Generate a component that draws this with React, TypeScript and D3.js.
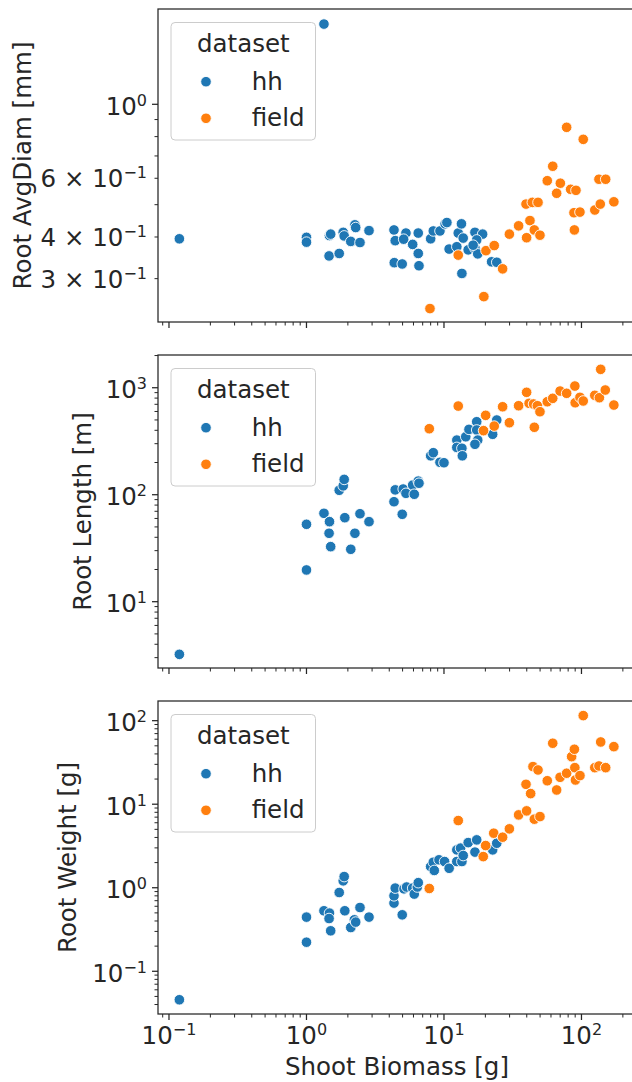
import React from "react";
import * as d3 from "d3";

const W = 632;
const H = 1082;
const LEFT = 158;
const RIGHT = 634;
const INK = "#262626";
const BLUE = "#1f77b4";
const ORANGE = "#ff7f0e";
const FONT = "'DejaVu Sans', sans-serif";
const FS = 24.5;
const SUP = 16;

const xDomain = [0.0832, 241];
const xTickExps = ["−1", "0", "1", "2"];
const xTickVals = [0.1, 1, 10, 100];

// panel 1: root avg diameter [mm] vs shoot biomass [g]
const hhShootA = [0.119, 1.0, 1.0, 1.34, 1.47, 1.5, 1.46, 1.73, 1.85, 1.88, 2.1, 2.25, 2.28, 2.45, 2.85, 4.33, 4.42, 4.35, 4.97, 5.29, 5.09, 5.92, 6.5, 6.5, 6.58, 8.0, 8.36, 9.35, 10.2, 10.5, 10.9, 12.7, 13.4, 13.8, 12.4, 13.5, 15.0, 16.8, 19.1, 17.3, 16.8, 17.6, 22.2, 24.2, 16.3];
const hhAvgDiam = [0.395, 0.399, 0.386, 1.74, 0.404, 0.408, 0.351, 0.357, 0.413, 0.403, 0.388, 0.435, 0.427, 0.385, 0.418, 0.42, 0.39, 0.335, 0.332, 0.411, 0.394, 0.38, 0.411, 0.357, 0.328, 0.395, 0.417, 0.417, 0.438, 0.442, 0.368, 0.411, 0.438, 0.397, 0.374, 0.311, 0.366, 0.413, 0.408, 0.392, 0.37, 0.356, 0.337, 0.336, 0.378];
const fieldShootA = [7.91, 12.7, 19.5, 20.2, 23.2, 26.7, 29.9, 34.9, 39.9, 42.2, 45.4, 49.9, 39.5, 43.9, 48.3, 56.4, 61.8, 70.2, 66.0, 78.0, 83.4, 91.2, 103, 88.2, 97.5, 88.8, 125, 137, 134, 150, 172];
const fieldAvgDiam = [0.244, 0.353, 0.265, 0.364, 0.377, 0.321, 0.408, 0.432, 0.398, 0.448, 0.42, 0.405, 0.502, 0.508, 0.508, 0.59, 0.652, 0.58, 0.541, 0.853, 0.556, 0.552, 0.785, 0.473, 0.475, 0.42, 0.482, 0.502, 0.596, 0.596, 0.51];

// panel 2: root length [m]
const hhShootB = [0.119, 1.0, 1.0, 1.34, 1.47, 1.46, 1.5, 1.73, 1.85, 1.88, 1.9, 2.1, 2.25, 2.45, 2.85, 4.33, 4.42, 4.97, 5.05, 5.29, 5.92, 6.08, 6.5, 6.58, 8.0, 8.36, 9.35, 10.0, 12.4, 12.4, 13.5, 13.6, 14.4, 15.2, 17.3, 17.3, 17.6, 16.8, 22.6, 24.2];
const hhLength = [3.22, 52.9, 19.8, 67, 56, 43.6, 32.7, 110, 121, 139, 61, 30.9, 43.6, 66.4, 56, 86, 111, 65.6, 113, 103, 123, 101, 134, 128, 231, 247, 201, 199, 324, 277, 272, 231, 348, 408, 481, 403, 324, 296, 367, 499];
const fieldShootB = [7.82, 12.7, 19.4, 20.1, 23.2, 26.7, 29.9, 34.9, 39.9, 41.6, 44.8, 47.8, 49.9, 45.4, 56.4, 61.8, 69.9, 78.0, 89.5, 90, 97.5, 103, 125, 135, 138, 149, 172];
const fieldLength = [414, 674, 397, 552, 438, 664, 471, 679, 906, 715, 705, 679, 597, 427, 740, 796, 931, 887, 1037, 724, 813, 752, 849, 807, 1486, 952, 689];

// panel 3: root weight [g]
const hhShootC = [0.119, 1.0, 1.0, 1.34, 1.47, 1.46, 1.5, 1.73, 1.85, 1.88, 1.9, 2.1, 2.23, 2.28, 2.45, 2.85, 4.33, 4.33, 4.42, 4.97, 5.12, 5.35, 5.92, 6.08, 6.4, 6.5, 8.0, 8.36, 8.5, 9.2, 10.1, 10.9, 12.4, 12.4, 13.2, 13.5, 13.8, 15.0, 17.3, 16.8, 22.6, 24.2];
const hhWeight = [0.0456, 0.445, 0.223, 0.53, 0.497, 0.428, 0.305, 0.877, 1.21, 1.36, 0.53, 0.334, 0.413, 0.388, 0.58, 0.445, 0.655, 0.8, 0.99, 0.474, 0.97, 1.02, 0.99, 0.84, 1.02, 1.15, 1.79, 2.02, 1.61, 2.16, 2.06, 1.71, 2.06, 2.84, 2.98, 2.06, 2.43, 3.47, 3.74, 2.67, 2.84, 3.41];
const fieldShootC = [7.82, 12.7, 19.3, 20.1, 23.0, 26.7, 29.9, 34.9, 39.9, 45.4, 49.9, 39.5, 42.7, 44.4, 48.3, 56.4, 61.8, 66, 69.9, 78, 84.8, 88.8, 89.5, 90.4, 97.5, 103, 125, 134, 150, 138, 172];
const fieldWeight = [0.98, 6.37, 2.36, 3.2, 4.5, 4.03, 5.07, 7.45, 8.32, 6.62, 7.11, 17.3, 13.4, 28.2, 25.7, 19.1, 53.7, 14.8, 21.0, 23.5, 37.1, 45.5, 27.4, 19.5, 22.0, 115, 27.4, 28.7, 27.4, 55.6, 48.9];

type TickLabel = { v: number; mant?: string; exp: string };

const panels = [
  {
    top: 9, bottom: 322, yDomain: [0.2224, 1.931], yLabel: "Root AvgDiam [mm]", yLabelX: 31,
    yLabels: [
      { v: 1, exp: "0" },
      { v: 0.6, mant: "6", exp: "−1" },
      { v: 0.4, mant: "4", exp: "−1" },
      { v: 0.3, mant: "3", exp: "−1" },
    ] as TickLabel[],
    hx: hhShootA, hy: hhAvgDiam, fx: fieldShootA, fy: fieldAvgDiam,
  },
  {
    top: 355, bottom: 668, yDomain: [2.4, 2023], yLabel: "Root Length [m]", yLabelX: 91,
    yLabels: [
      { v: 10, exp: "1" },
      { v: 100, exp: "2" },
      { v: 1000, exp: "3" },
    ] as TickLabel[],
    hx: hhShootB, hy: hhLength, fx: fieldShootB, fy: fieldLength,
  },
  {
    top: 701, bottom: 1014, yDomain: [0.0308, 172], yLabel: "Root Weight [g]", yLabelX: 75.5,
    yLabels: [
      { v: 0.1, exp: "−1" },
      { v: 1, exp: "0" },
      { v: 10, exp: "1" },
      { v: 100, exp: "2" },
    ] as TickLabel[],
    hx: hhShootC, hy: hhWeight, fx: fieldShootC, fy: fieldWeight,
  },
];

function logTicks(domain: number[]) {
  const major: number[] = [];
  const minor: number[] = [];
  for (let k = -3; k <= 4; k++) {
    for (let m = 1; m <= 9; m++) {
      const v = m * Math.pow(10, k);
      if (v < domain[0] || v > domain[1]) continue;
      (m === 1 ? major : minor).push(v);
    }
  }
  return { major, minor };
}

function Sci({ x, y, anchor, t }: { x: number; y: number; anchor: string; t: TickLabel }) {
  return (
    <text x={x} y={y} textAnchor={anchor} fontSize={FS} fill={INK} fontFamily={FONT}>
      {t.mant ? `${t.mant} × 10` : "10"}
      <tspan dy={-9} fontSize={SUP}>{t.exp}</tspan>
    </text>
  );
}

export default function App() {
  const x = d3.scaleLog().domain(xDomain).range([LEFT, RIGHT]);
  const xt = logTicks(xDomain);

  return (
    <svg width={W} height={H} style={{ position: "absolute", left: 0, top: 0, background: "#fff" }}>
      {panels.map((p, i) => {
        const y = d3.scaleLog().domain(p.yDomain).range([p.bottom, p.top]);
        const yt = logTicks(p.yDomain);
        const last = i === panels.length - 1;
        return (
          <g key={i}>
            {/* x ticks */}
            {xt.major.map((v) => (
              <line key={"xM" + v} x1={x(v)} x2={x(v)} y1={p.bottom} y2={p.bottom + 6} stroke={INK} strokeWidth={1.25} />
            ))}
            {xt.minor.map((v) => (
              <line key={"xm" + v} x1={x(v)} x2={x(v)} y1={p.bottom} y2={p.bottom + 3.5} stroke={INK} strokeWidth={1} />
            ))}
            {/* y ticks */}
            {yt.major.map((v) => (
              <line key={"yM" + v} x1={LEFT - 6} x2={LEFT} y1={y(v)} y2={y(v)} stroke={INK} strokeWidth={1.25} />
            ))}
            {yt.minor.map((v) => (
              <line key={"ym" + v} x1={LEFT - 3.5} x2={LEFT} y1={y(v)} y2={y(v)} stroke={INK} strokeWidth={1} />
            ))}
            {p.yLabels.map((t) => (
              <Sci key={"yl" + t.v} x={147} y={y(t.v) + (t.mant ? 9 : 10.5)} anchor="end" t={t} />
            ))}
            <text
              transform={`translate(${p.yLabelX},${(p.top + p.bottom) / 2}) rotate(-90)`}
              textAnchor="middle" fontSize={FS} fill={INK} fontFamily={FONT}
            >
              {p.yLabel}
            </text>
            {last &&
              xTickVals.map((v, j) => (
                <Sci key={"xl" + v} x={x(v)} y={1044} anchor="middle" t={{ v, exp: xTickExps[j] }} />
              ))}
            {/* points */}
            {p.hx.map((v, j) => (
              <circle key={"h" + j} cx={x(v)} cy={y(p.hy[j])} r={5.3} fill={BLUE} stroke="#fff" strokeWidth={0.9} />
            ))}
            {p.fx.map((v, j) => (
              <circle key={"f" + j} cx={x(v)} cy={y(p.fy[j])} r={5.3} fill={ORANGE} stroke="#fff" strokeWidth={0.9} />
            ))}
            {/* frame */}
            <rect x={LEFT} y={p.top} width={RIGHT - LEFT} height={p.bottom - p.top} fill="none" stroke={INK} strokeWidth={1.25} />
            {/* legend */}
            <g fontFamily={FONT} fontSize={FS} fill={INK}>
              <rect x={171} y={p.top + 13.5} width={144.5} height={117.5} rx={4} fill="#fff" fillOpacity={0.8} stroke="#cccccc" strokeWidth={1} />
              <text x={243.3} y={p.top + 42.7} textAnchor="middle">dataset</text>
              <circle cx={206} cy={p.top + 72.7} r={5.3} fill={BLUE} stroke="#fff" strokeWidth={0.9} />
              <text x={251.7} y={p.top + 81}>hh</text>
              <circle cx={206} cy={p.top + 109.3} r={5.3} fill={ORANGE} stroke="#fff" strokeWidth={0.9} />
              <text x={251.7} y={p.top + 116.5}>field</text>
            </g>
          </g>
        );
      })}
      <text x={397} y={1075} textAnchor="middle" fontSize={FS} fill={INK} fontFamily={FONT}>
        Shoot Biomass [g]
      </text>
    </svg>
  );
}
